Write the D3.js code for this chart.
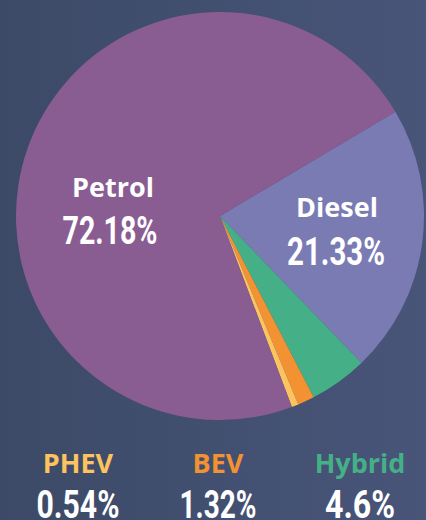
<!DOCTYPE html>
<html>
<head>
<meta charset="utf-8">
<script src="https://d3js.org/d3.v7.min.js"></script>
<style>
  html, body { margin: 0; padding: 0; }
  body { width: 426px; height: 520px; overflow: hidden; }
</style>
</head>
<body>
<script>
  // fuel type shares, in drawing order (clockwise from Diesel)
  var categories = ["Diesel", "Hybrid", "BEV", "PHEV", "Petrol"];
  var shares = [21.33, 4.6, 1.32, 0.54, 72.18];
  var shareLabels = ["21.33%", "4.6%", "1.32%", "0.54%", "72.18%"];
  var colors = ["#7b7bb4", "#45b088", "#f39233", "#fdc35f", "#895d92"];

  var width = 426, height = 520;
  var cx = 220, cy = 216, radius = 204;

  var svg = d3.select("body")
    .append("svg")
    .attr("width", width)
    .attr("height", height);

  // background gradient
  var grad = svg.append("defs").append("linearGradient")
    .attr("id", "bg")
    .attr("x1", "0").attr("x2", "1").attr("y1", "0").attr("y2", "0");
  grad.append("stop").attr("offset", "0").attr("stop-color", "#3c4a67");
  grad.append("stop").attr("offset", "1").attr("stop-color", "#485579");

  svg.append("rect")
    .attr("width", width)
    .attr("height", height)
    .attr("fill", "url(#bg)");

  var data = categories.map(function(c, i) {
    return { name: c, value: shares[i], label: shareLabels[i], color: colors[i] };
  });

  var start = 59.3 * Math.PI / 180;
  var pie = d3.pie()
    .sort(null)
    .value(function(d) { return d.value; })
    .startAngle(start)
    .endAngle(start + 2 * Math.PI);

  var arc = d3.arc().innerRadius(0).outerRadius(radius);

  var g = svg.append("g").attr("transform", "translate(" + cx + "," + cy + ")");

  g.selectAll("path")
    .data(pie(data))
    .enter()
    .append("path")
    .attr("d", arc)
    .attr("fill", function(d) { return d.data.color; });

  var nameFont = "'Open Sans', 'Noto Sans', sans-serif";
  var numFont = "Roboto, 'DejaVu Sans', sans-serif";

  function numText(x, y, txt, w) {
    // condensed look: squeeze the glyphs into the measured width
    svg.append("text")
      .attr("x", x - w / 2).attr("y", y)
      .attr("textLength", w)
      .attr("lengthAdjust", "spacingAndGlyphs")
      .style("font-family", numFont)
      .style("font-weight", "700")
      .style("font-size", "38px")
      .style("fill", "#ffffff")
      .text(txt);
  }

  // labels inside the two big slices
  var inside = [
    { name: "Petrol", x: 113, y: 197, nx: 110, ny: 244, w: 95 },
    { name: "Diesel", x: 337, y: 217, nx: 336, ny: 265, w: 98 }
  ];
  inside.forEach(function(p) {
    var d = data.find(function(e) { return e.name === p.name; });
    svg.append("text")
      .attr("x", p.x).attr("y", p.y)
      .attr("text-anchor", "middle")
      .style("font-family", nameFont)
      .style("font-weight", "700")
      .style("font-size", "27px")
      .style("fill", "#ffffff")
      .text(d.name);
    numText(p.nx, p.ny, d.label, p.w);
  });

  // legend-style labels for the small slices
  var bottom = [
    { name: "PHEV", x: 78, w: 83 },
    { name: "BEV", x: 218, w: 77 },
    { name: "Hybrid", x: 360, w: 70 }
  ];
  bottom.forEach(function(p) {
    var d = data.find(function(e) { return e.name === p.name; });
    svg.append("text")
      .attr("x", p.x).attr("y", 473)
      .attr("text-anchor", "middle")
      .style("font-family", nameFont)
      .style("font-weight", "700")
      .style("font-size", "27px")
      .style("fill", d.color)
      .text(d.name);
    numText(p.x, 518, d.label, p.w);
  });
</script>
</body>
</html>
